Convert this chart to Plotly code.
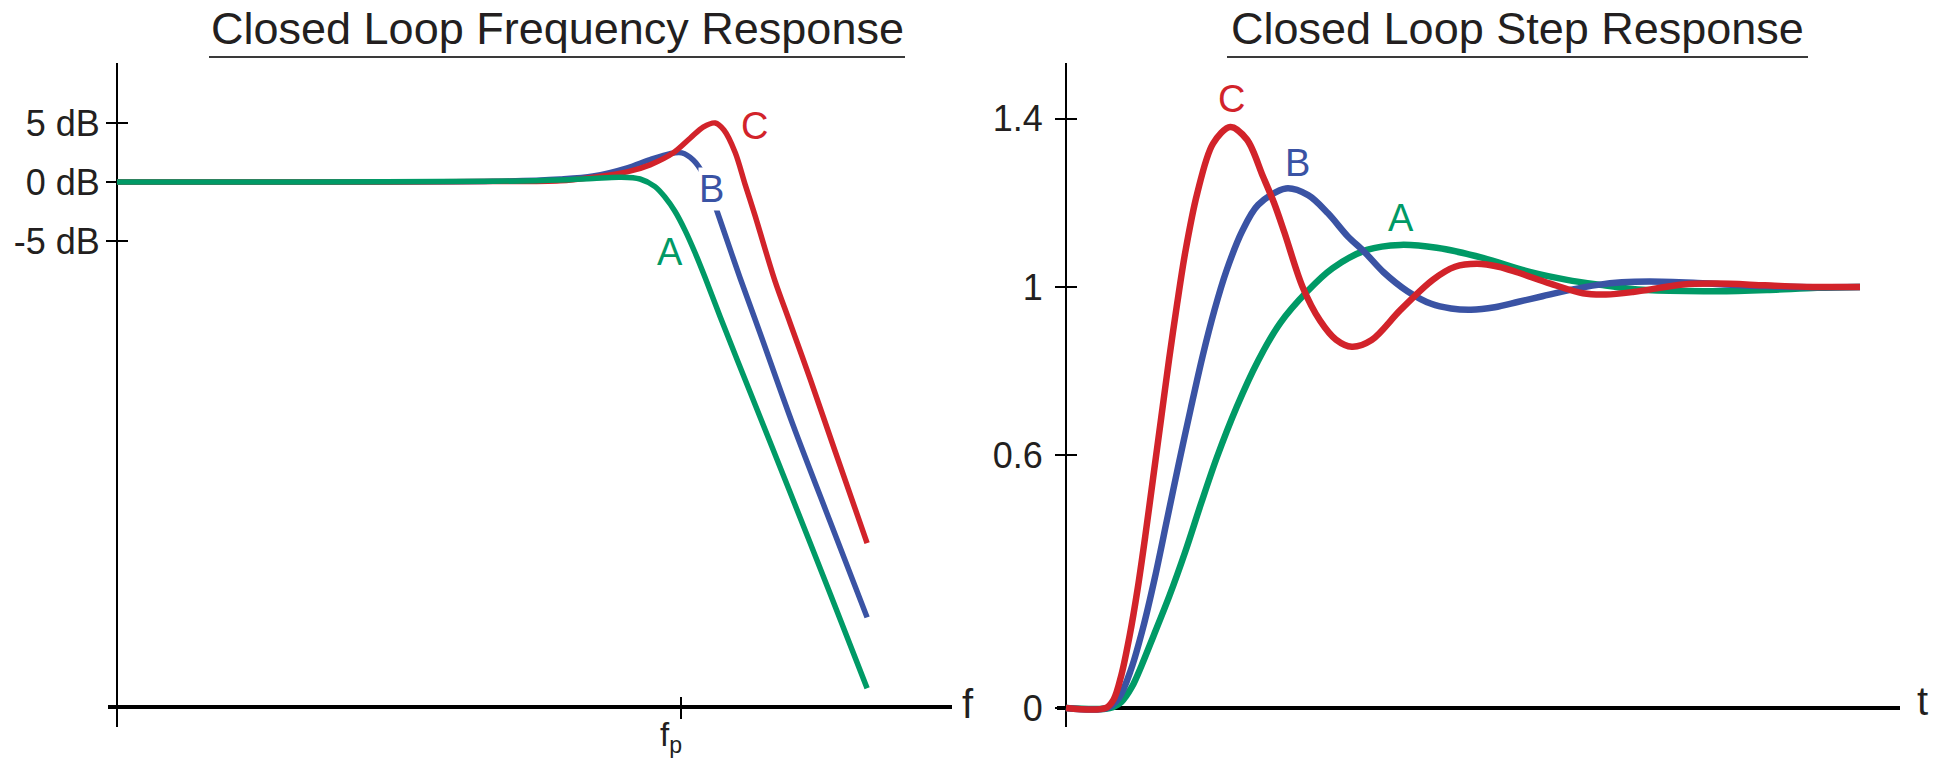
import plotly.graph_objects as go

W, H = 1940, 760

# ---------------- data: closed loop frequency response (f in units of fp, |H| in dB)
freq_A = [0.001, 0.01, 0.1, 0.227, 0.34, 0.474, 0.605, 0.727, 0.822, 0.929, 1.05, 1.187, 1.342, 1.612,
          2.328, 3.80, 6.21, 9.76]
mag_A = [0, 0, 0.05, 0.17, 0.3, 0.4, 0.25, -0.4, -1.3, -2.5, -4.1, -6.0, -8.1, -11.4,
         -17.8, -26.3, -34.9, -42.9]

freq_B = [0.001, 0.01, 0.1, 0.227, 0.34, 0.516, 0.684, 0.873, 1.01, 1.16, 1.31, 1.48, 1.71, 2.06,
          2.63, 3.94, 6.21, 9.76]
mag_B = [0, 0, 0.05, 0.25, 0.5, 1.2, 1.9, 2.4, 2.46, 1.86, 0.68, -1.53, -4.41, -8.14,
         -12.8, -20.6, -28.8, -36.9]

freq_C = [0.001, 0.01, 0.1, 0.227, 0.34, 0.516, 0.684, 0.906, 1.117, 1.31, 1.52, 1.69, 1.94, 2.19,
          2.48, 2.80, 3.16, 3.80, 4.86, 6.59, 9.76]
mag_C = [0, 0, 0.03, 0.1, 0.4, 0.85, 1.45, 2.45, 3.7, 4.65, 5.0, 4.4, 2.5, -0.2,
         -2.9, -5.7, -8.4, -11.95, -16.7, -22.8, -30.6]

db_ticks = [-5, 0, 5]
db_labels = ["-5 dB", "0 dB", "5 dB"]
f_ticks = [1]
f_labels = ["f<sub>p</sub>"]

# ---------------- data: closed loop step response
t_A = [0, 0.55, 0.7, 0.83, 0.95, 1.1, 1.3, 1.5, 1.7, 1.9, 2.15, 2.42, 2.7, 3.04, 3.36, 3.79, 4.21, 4.67,
       5.25, 5.84, 6.31, 6.73, 7.1, 7.6, 8.2, 8.83, 9.46, 10]
y_A = [0, 0, 0.015, 0.05, 0.1, 0.17, 0.265, 0.37, 0.485, 0.595, 0.715, 0.825, 0.915, 0.99, 1.045, 1.088, 1.10,
       1.093, 1.069, 1.036, 1.017, 1.005, 0.996, 0.991, 0.99, 0.993, 0.998, 1.0]

t_B = [0, 0.52, 0.67, 0.82, 0.97, 1.12, 1.27, 1.42, 1.57, 1.72, 1.87, 2.02, 2.22, 2.42, 2.77, 3.05, 3.3, 3.55,
       3.75, 4.0, 4.3, 4.6, 4.85, 5.1, 5.4, 5.7, 6.0, 6.35, 6.7, 7.0, 7.35, 7.9, 8.5, 9.2, 10]
y_B = [0, 0, 0.025, 0.092, 0.19, 0.31, 0.445, 0.58, 0.71, 0.835, 0.945, 1.038, 1.133, 1.195, 1.234, 1.218,
       1.175, 1.12, 1.085, 1.035, 0.99, 0.96, 0.949, 0.946, 0.952, 0.965, 0.978, 0.993, 1.005, 1.011, 1.013,
       1.01, 1.004, 1.0, 1.0]

t_C = [0, 0.5, 0.6, 0.7, 0.8, 0.9, 1.0, 1.1, 1.2, 1.3, 1.4, 1.5, 1.65, 1.85, 2.07, 2.28, 2.48, 2.62, 2.75,
       2.98, 3.2, 3.4, 3.6, 3.85, 4.21, 4.62, 4.9, 5.18, 5.45, 5.68, 6.1, 6.51, 6.8, 7.14, 7.77, 8.2, 8.8,
       9.4, 10]
y_C = [0, 0, 0.02, 0.08, 0.17, 0.28, 0.41, 0.55, 0.69, 0.83, 0.96, 1.08, 1.22, 1.34, 1.38, 1.35, 1.263, 1.2,
       1.13, 1.0, 0.92, 0.875, 0.858, 0.874, 0.945, 1.017, 1.048, 1.055, 1.048, 1.035, 1.008, 0.985, 0.982,
       0.988, 1.006, 1.008, 1.004, 1.0, 1.0]

step_ticks = [0, 0.6, 1, 1.4]
step_labels = ["0", "0.6", "1", "1.4"]

# ---------------- style
FONT = "Liberation Sans, Arial, Helvetica, sans-serif"
INK = "#231f20"
RED = "#d2232a"
BLUE = "#3a53a4"
GREEN = "#009a66"


def px(p):
    return p / W


def py(p):
    return 1 - p / H


fig = go.Figure()


def curve(x, y, color, width, xa, ya):
    fig.add_trace(go.Scatter(x=x, y=y, mode="lines",
                             line=dict(color=color, width=width, shape="spline", smoothing=0.9),
                             xaxis=xa, yaxis=ya, hoverinfo="skip", showlegend=False))


# left panel (B, C, then A on top)
curve(freq_B, mag_B, BLUE, 5.5, "x", "y")
curve(freq_C, mag_C, RED, 5.5, "x", "y")
curve(freq_A, mag_A, GREEN, 5.5, "x", "y")
# right panel (A, B, then C on top)
curve(t_A, y_A, GREEN, 6.5, "x2", "y2")
curve(t_B, y_B, BLUE, 6.5, "x2", "y2")
curve(t_C, y_C, RED, 6.5, "x2", "y2")
# empty traces so the overlay (inside-tick) axes are drawn
fig.add_trace(go.Scatter(x=[], y=[], xaxis="x3", yaxis="y3", showlegend=False, hoverinfo="skip"))
fig.add_trace(go.Scatter(x=[], y=[], xaxis="x4", yaxis="y4", showlegend=False, hoverinfo="skip"))

Y_DOM = [py(727), py(63)]
L_XDOM = [px(108), px(952)]
R_XDOM = [px(1057), px(1900)]
L_XRANGE = [-3.048, 1.441]
L_YRANGE = [-46.19, 10.08]
R_XRANGE = [-0.113, 10.504]
R_YRANGE = [-0.0451, 1.532]

common = dict(showgrid=False, zeroline=False, fixedrange=True, layer="below traces", automargin=False)
tickfont = dict(family=FONT, size=36, color=INK)

fig.update_layout(
    width=W, height=H, margin=dict(l=0, r=0, t=0, b=0, pad=0, autoexpand=False),
    paper_bgcolor="white", plot_bgcolor="rgba(0,0,0,0)",
    font=dict(family=FONT, color=INK),
    showlegend=False,
    xaxis=dict(domain=L_XDOM, type="log", range=L_XRANGE, anchor="free", position=py(707),
               showline=True, linewidth=4, linecolor="black",
               ticks="outside", ticklen=10, tickwidth=2, tickcolor="black",
               tickvals=f_ticks, ticktext=f_labels, tickfont=dict(family=FONT, size=33, color=INK),
               ticklabelshift=-10, ticklabelstandoff=-13,
               **common),
    yaxis=dict(domain=Y_DOM, range=L_YRANGE, anchor="free", position=px(117),
               showline=True, linewidth=2, linecolor="black",
               ticks="outside", ticklen=10, tickwidth=2, tickcolor="black",
               tickvals=db_ticks, ticktext=db_labels, tickfont=tickfont, ticklabelstandoff=-1,
               **common),
    xaxis3=dict(domain=L_XDOM, type="log", range=L_XRANGE, overlaying="x", anchor="free", position=py(707),
                showline=False, ticks="inside", ticklen=10, tickwidth=2, tickcolor="black",
                tickvals=f_ticks, showticklabels=False, **common),
    yaxis3=dict(domain=Y_DOM, range=L_YRANGE, overlaying="y", anchor="free", position=px(117),
                showline=False, ticks="inside", ticklen=10, tickwidth=2, tickcolor="black",
                tickvals=db_ticks, showticklabels=False, **common),
    xaxis2=dict(domain=R_XDOM, range=R_XRANGE, anchor="free", position=py(708),
                showline=True, linewidth=4, linecolor="black",
                ticks="", showticklabels=False, **common),
    yaxis2=dict(domain=Y_DOM, range=R_YRANGE, anchor="free", position=px(1066),
                showline=True, linewidth=2, linecolor="black",
                ticks="outside", ticklen=10, tickwidth=2, tickcolor="black",
                tickvals=step_ticks, ticktext=step_labels, tickfont=tickfont, ticklabelstandoff=5,
                **common),
    xaxis4=dict(domain=R_XDOM, range=R_XRANGE, overlaying="x2", anchor="free", position=py(708),
                showline=False, ticks="", showticklabels=False, **common),
    yaxis4=dict(domain=Y_DOM, range=R_YRANGE, overlaying="y2", anchor="free", position=px(1066),
                showline=False, ticks="inside", ticklen=10, tickwidth=2, tickcolor="black",
                tickvals=step_ticks, showticklabels=False, **common),
)

# titles with underline
fig.add_annotation(text="Closed Loop Frequency Response", x=px(557), y=py(29), xref="paper", yref="paper",
                   showarrow=False, xanchor="center", yanchor="middle",
                   font=dict(family=FONT, size=45, color=INK))
fig.add_annotation(text="Closed Loop Step Response", x=px(1517), y=py(29), xref="paper", yref="paper",
                   showarrow=False, xanchor="center", yanchor="middle",
                   font=dict(family=FONT, size=45, color=INK))
fig.add_shape(type="line", xref="paper", yref="paper", x0=px(209), x1=px(905), y0=py(57), y1=py(57),
              line=dict(color="#3a3a3a", width=2))
fig.add_shape(type="line", xref="paper", yref="paper", x0=px(1227), x1=px(1808), y0=py(57), y1=py(57),
              line=dict(color="#3a3a3a", width=2))

# axis variable letters
fig.add_annotation(text="f", x=px(968), y=py(704), xref="paper", yref="paper", showarrow=False,
                   xanchor="center", yanchor="middle", font=dict(family=FONT, size=40, color=INK))
fig.add_annotation(text="t", x=px(1922), y=py(701), xref="paper", yref="paper", showarrow=False,
                   xanchor="center", yanchor="middle", font=dict(family=FONT, size=40, color=INK))

# series labels
labels = [
    ("C", 754, 126, RED, None), ("B", 711, 189, BLUE, "white"), ("A", 670, 252, GREEN, None),
    ("C", 1231, 99, RED, None), ("B", 1297, 163, BLUE, None), ("A", 1401, 218, GREEN, None),
]
for txt, lx, ly, col, bg in labels:
    fig.add_annotation(text=txt, x=px(lx), y=py(ly), xref="paper", yref="paper", showarrow=False,
                       xanchor="center", yanchor="middle", bgcolor=bg, borderpad=0,
                       font=dict(family=FONT, size=38, color=col))

fig.write_html("out.html")
